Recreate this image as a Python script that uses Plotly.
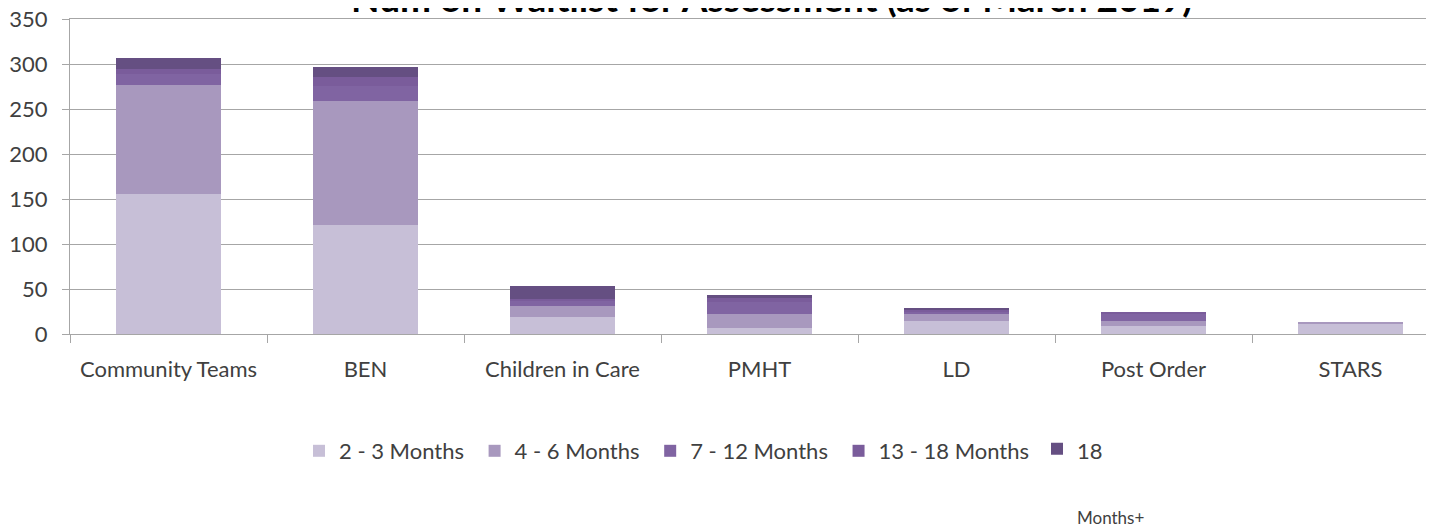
import plotly.graph_objects as go

categories = ["Community Teams", "BEN", "Children in Care", "PMHT", "LD", "Post Order", "STARS"]
m2_3 = [156, 121, 19, 7, 14, 9, 12]
m4_6 = [121, 138, 12, 15, 9, 5, 1]
m7_12 = [12, 17, 6, 14, 2, 9, 0]
m13_18 = [6, 10, 2, 5, 2, 1, 0]
m18p = [12, 11, 14, 2, 2, 0, 0]
y_ticks = [0, 50, 100, 150, 200, 250, 300, 350]
title_text = "Num on Waitlist for Assessment (as of March 2019)"

PAD = "\u00a0"
series = [
    ("2 - 3 Months" + PAD, m2_3, "#C7BFD7", "legend"),
    ("4 - 6 Months" + PAD, m4_6, "#A898BE", "legend"),
    ("7 - 12 Months" + PAD, m7_12, "#8064A2", "legend"),
    ("13 - 18 Months", m13_18, "#7A5C9B", "legend"),
    ("<span style='font-size:22px'>18</span><br><br><span style='font-size:17px'>Months+</span>", m18p, "#654F82", "legend2"),
]

FONT = "Lato"
fig = go.Figure()
for name, vals, col, lg in series:
    fig.add_trace(go.Bar(x=categories, y=vals, name=name, marker_color=col,
                         marker_line_width=0, legend=lg))

# page body has an 8px margin; work in viewport pixels and subtract it
O = 8
W, H = 1434 - O, 529 - O
L, T = 70 - O, 19 - O
plot_bottom = 334 - O
B = H - plot_bottom
plot_w = W - L
plot_h = plot_bottom - T
cat_px = 197

fig.update_layout(
    width=W, height=H,
    margin=dict(l=L, r=0, t=T, b=B, autoexpand=False),
    barmode="stack", bargap=0.472,
    plot_bgcolor="white", paper_bgcolor="white",
    font=dict(family=FONT, size=22, color="#404040"),
    xaxis=dict(range=[-0.5, -0.5 + plot_w / cat_px], tickson="boundaries",
               ticks="outside", ticklen=8, tickcolor="#A6A6A6",
               showline=True, linecolor="#A6A6A6", linewidth=1, mirror=True,
               ticklabelstandoff=16, automargin=False, ticklabeloverflow="allow",
               tickfont=dict(size=22, color="#404040")),
    yaxis=dict(range=[0, 350], tickvals=y_ticks, ticks="outside", ticklen=7,
               tickcolor="#A6A6A6", showline=True, linecolor="#A6A6A6",
               gridcolor="#A6A6A6", gridwidth=1, zeroline=False,
               ticklabelstandoff=10, automargin=False, ticklabeloverflow="allow",
               tickfont=dict(size=22, color="#404040")),
    legend=dict(orientation="h", xref="container", yref="container",
                x=(299 - O) / W, xanchor="left",
                y=1 - (451 - O) / H, yanchor="middle", traceorder="normal",
                font=dict(size=22, color="#404040"), bgcolor="rgba(0,0,0,0)"),
    legend2=dict(orientation="h", xref="container", yref="container",
                 x=(1037 - O) / W, xanchor="left",
                 y=1 - (426 - O) / H, yanchor="top", valign="top",
                 font=dict(size=25, color="#404040"), bgcolor="rgba(0,0,0,0)"),
    showlegend=True,
)
fig.add_annotation(text="<b>" + title_text + "</b>", xref="paper", yref="paper",
                   x=(772 - 70) / plot_w, y=1 - 3 / plot_h, xanchor="center", yanchor="bottom",
                   showarrow=False, font=dict(family=FONT, size=37, color="#000000"))

fig.write_html("out.html")
